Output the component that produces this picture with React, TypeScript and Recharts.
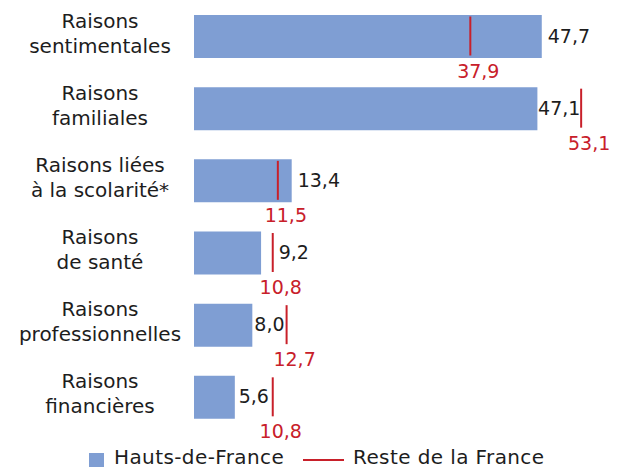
import { Bar, BarChart, XAxis, YAxis } from "recharts";

const categories = [
  "Raisons\nsentimentales",
  "Raisons\nfamiliales",
  "Raisons liées\nà la scolarité*",
  "Raisons\nde santé",
  "Raisons\nprofessionnelles",
  "Raisons\nfinancières",
];
const hautsDeFrance = [47.7, 47.1, 13.4, 9.2, 8.0, 5.6];
const resteFrance = [37.9, 53.1, 11.5, 10.8, 12.7, 10.8];

const data = categories.map((name, i) => ({
  name,
  hdf: hautsDeFrance[i],
  reste: resteFrance[i],
}));

const BLUE = "#7F9ED3";
const RED = "#C8202A";
const INK = "#1d1d1d";
const FONT = "'DejaVu Sans', sans-serif";

const fmt = (v: number) => v.toFixed(1).replace(".", ",");

const CategoryTick = (props: any) => {
  const { y, payload } = props;
  const lines = String(payload.value).split("\n");
  const cy = y - 3;
  return (
    <text
      textAnchor="middle"
      dominantBaseline="central"
      fill={INK}
      fontSize={20}
      fontFamily={FONT}
    >
      {lines.map((l, i) => (
        <tspan key={i} x={100} y={cy + (i - (lines.length - 1) / 2) * 25}>
          {l}
        </tspan>
      ))}
    </text>
  );
};

// red marker for "Reste de la France", plus both value labels
const RefMark = (props: any) => {
  const { x, y, width, height, payload } = props;
  const cy = y + height / 2;
  const rx = x + width;
  const blueEnd = x + (width * payload.hdf) / payload.reste;

  let lx = blueEnd + 6;
  let anchor: "start" | "middle" = "start";
  if (rx > blueEnd) {
    const gap = rx - blueEnd;
    if (gap >= 32) {
      lx = (blueEnd + rx) / 2;
      anchor = "middle";
    } else {
      lx = rx + 6;
    }
  }

  return (
    <g>
      <line x1={rx} x2={rx} y1={cy - 20} y2={cy + 19} stroke={RED} strokeWidth={2} />
      <text
        x={rx + 8}
        y={cy + 34}
        textAnchor="middle"
        dominantBaseline="central"
        fill={RED}
        fontSize={19}
        fontFamily={FONT}
      >
        {fmt(payload.reste)}
      </text>
      <text
        x={lx}
        y={cy - 1}
        textAnchor={anchor}
        dominantBaseline="central"
        fill={INK}
        fontSize={19}
        fontFamily={FONT}
      >
        {fmt(payload.hdf)}
      </text>
    </g>
  );
};

export default function App() {
  return (
    <div style={{ position: "absolute", left: 0, top: 0, width: 618, height: 468, fontFamily: FONT }}>
      <BarChart
        layout="vertical"
        width={618}
        height={468}
        data={data}
        margin={{ top: 0, right: 23, bottom: 35, left: 0 }}
        barGap={-43}
      >
        <XAxis type="number" domain={[0, 55]} hide />
        <YAxis
          type="category"
          dataKey="name"
          width={194}
          axisLine={false}
          tickLine={false}
          tick={<CategoryTick />}
          interval={0}
        />
        <Bar dataKey="hdf" fill={BLUE} barSize={43} isAnimationActive={false} />
        <Bar dataKey="reste" barSize={43} shape={<RefMark />} isAnimationActive={false} />
      </BarChart>
      <div
        style={{
          position: "absolute",
          left: 0,
          top: 446,
          width: 618,
          height: 20,
          fontSize: 20,
          color: INK,
          lineHeight: "18px",
          whiteSpace: "nowrap",
          letterSpacing: 0.4,
        }}
      >
        <span style={{ position: "absolute", left: 89, top: 7, width: 15, height: 14, background: BLUE }} />
        <span style={{ position: "absolute", left: 114, top: 2 }}>Hauts-de-France</span>
        <span style={{ position: "absolute", left: 303, top: 13, width: 41, height: 2, background: RED }} />
        <span style={{ position: "absolute", left: 353, top: 2 }}>Reste de la France</span>
      </div>
    </div>
  );
}
